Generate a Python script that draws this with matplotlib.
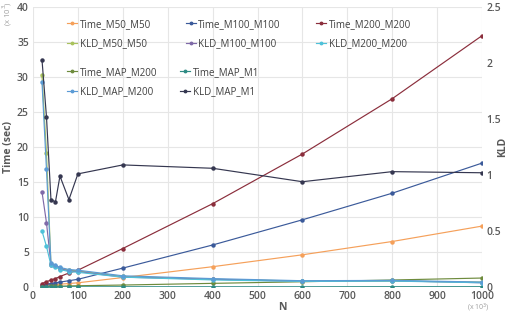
import numpy as np
import matplotlib
matplotlib.use('Agg')
import matplotlib.pyplot as plt

plt.rcParams['font.family'] = ['Open Sans', 'DejaVu Sans']

# N in thousands
n_vals = [20, 30, 40, 50, 60, 80, 100, 200, 400, 600, 800, 1000]

# Time series (sec, x10^3) - left axis
time_m50_m50 = [0.2, 0.25, 0.3, 0.35, 0.4, 0.5, 0.6, 1.35, 2.9, 4.6, 6.5, 8.7]
time_m100_m100 = [0.3, 0.4, 0.5, 0.6, 0.7, 0.9, 1.1, 2.7, 6.0, 9.6, 13.4, 17.7]
time_m200_m200 = [0.5, 0.75, 1.0, 1.2, 1.5, 2.0, 2.4, 5.5, 11.9, 19.0, 26.9, 35.9]
time_map_m200 = [0.05, 0.07, 0.08, 0.1, 0.12, 0.15, 0.18, 0.28, 0.52, 0.75, 1.0, 1.28]
time_map_m1 = [0.02, 0.02, 0.02, 0.02, 0.02, 0.02, 0.02, 0.03, 0.03, 0.03, 0.04, 0.04]

# KLD series - right axis
kld_m50_m50 = [1.89, 1.20, 0.206, 0.188, 0.169, 0.150, 0.144, 0.094, 0.069, 0.053, 0.053, 0.044]
kld_m100_m100 = [0.85, 0.575, 0.200, 0.188, 0.163, 0.144, 0.138, 0.088, 0.069, 0.050, 0.056, 0.038]
kld_m200_m200 = [0.50, 0.363, 0.194, 0.181, 0.156, 0.138, 0.131, 0.088, 0.063, 0.050, 0.053, 0.038]
kld_map_m200 = [1.83, 1.05, 0.213, 0.194, 0.175, 0.156, 0.150, 0.100, 0.075, 0.056, 0.059, 0.044]
kld_map_m1 = [2.03, 1.52, 0.78, 0.76, 0.99, 0.78, 1.01, 1.09, 1.06, 0.94, 1.03, 1.02]

fig = plt.figure(figsize=(5.08, 3.14), dpi=100)
ax = fig.add_axes([33 / 508, 27 / 314, 449 / 508, 280 / 314])
ax2 = ax.twinx()

mk = dict(marker='o', markersize=2.2, linewidth=0.85)

lines = {}
lines['Time_M50_M50'] = ax.plot(n_vals, time_m50_m50, color='#F5A05A', **mk)[0]
lines['Time_M100_M100'] = ax.plot(n_vals, time_m100_m100, color='#3B5A9A', **mk)[0]
lines['Time_M200_M200'] = ax.plot(n_vals, time_m200_m200, color='#8B2E3C', **mk)[0]
lines['Time_MAP_M200'] = ax.plot(n_vals, time_map_m200, color='#6E8B3D', **mk)[0]
lines['Time_MAP_M1'] = ax.plot(n_vals, time_map_m1, color='#2E8B84', **mk)[0]

lines['KLD_M50_M50'] = ax2.plot(n_vals, kld_m50_m50, color='#A9C25D', **mk)[0]
lines['KLD_M100_M100'] = ax2.plot(n_vals, kld_m100_m100, color='#7F6AA8', **mk)[0]
lines['KLD_M200_M200'] = ax2.plot(n_vals, kld_m200_m200, color='#4FC1D9', **mk)[0]
lines['KLD_MAP_M200'] = ax2.plot(n_vals, kld_map_m200, color='#5B9BD5', **mk)[0]
lines['KLD_MAP_M1'] = ax2.plot(n_vals, kld_map_m1, color='#353750', **mk)[0]

ax.set_xlim(0, 1000)
ax.set_ylim(0, 40)
ax2.set_ylim(0, 2.5)
ax.set_xticks(np.arange(0, 1001, 100))
ax.set_yticks(np.arange(0, 41, 5))
ax2.set_yticks([0, 0.5, 1, 1.5, 2, 2.5])
ax2.set_yticklabels(['0', '0.5', '1', '1.5', '2', '2.5'])

tick_col = '#595959'
for a in (ax, ax2):
    for s in a.spines.values():
        s.set_visible(False)
    a.tick_params(length=0, labelsize=7.5, labelcolor=tick_col)
    for lab in a.get_xticklabels() + a.get_yticklabels():
        lab.set_fontweight('semibold')
ax.tick_params(axis='x', pad=3)
ax.tick_params(axis='y', pad=3)
ax2.tick_params(axis='y', pad=3)
ax.grid(True, color='#E6E6E6', linewidth=0.8)
ax.set_axisbelow(True)

ax.set_ylabel('Time (sec)', fontsize=7.5, color=tick_col, fontweight='bold', labelpad=2)
ax2.set_ylabel('KLD', fontsize=7.5, color=tick_col, fontweight='bold')
ax2.yaxis.set_label_coords(1.034, 0.5)
ax.set_xlabel('N', fontsize=7.5, color=tick_col, fontweight='bold', labelpad=0)
ax.xaxis.set_label_coords(0.555, -0.055)

fig.text(0.015, 0.995, '(x 10$^3$)', rotation=90, fontsize=5.5, color='#A0A0A0', ha='center', va='top')
fig.text(478 / 508, 0.0, '(x 10$^3$)', fontsize=5, color='#A0A0A0', ha='center', va='bottom')

legkw = dict(loc='upper left', frameon=False, fontsize=7, handlelength=1.0,
             handletextpad=0.3, labelspacing=0.85, markerscale=0.8, borderaxespad=0)

top = ['Time_M50_M50', 'KLD_M50_M50', 'Time_M100_M100', 'KLD_M100_M100',
       'Time_M200_M200', 'KLD_M200_M200']
leg1 = ax2.legend([lines[k] for k in top], top, ncol=3,
                  bbox_to_anchor=(63 / 508, 1 - 15 / 314), bbox_transform=fig.transFigure,
                  columnspacing=3.6, **legkw)
for t in leg1.get_texts():
    t.set_color('#404040')
ax2.add_artist(leg1)

bottom = ['Time_MAP_M200', 'KLD_MAP_M200', 'Time_MAP_M1', 'KLD_MAP_M1']
leg2 = ax2.legend([lines[k] for k in bottom], bottom, ncol=2,
                  bbox_to_anchor=(63 / 508, 1 - 63 / 314), bbox_transform=fig.transFigure,
                  columnspacing=2.4, **legkw)
for t in leg2.get_texts():
    t.set_color('#404040')

fig.savefig('out.png', dpi=100)
